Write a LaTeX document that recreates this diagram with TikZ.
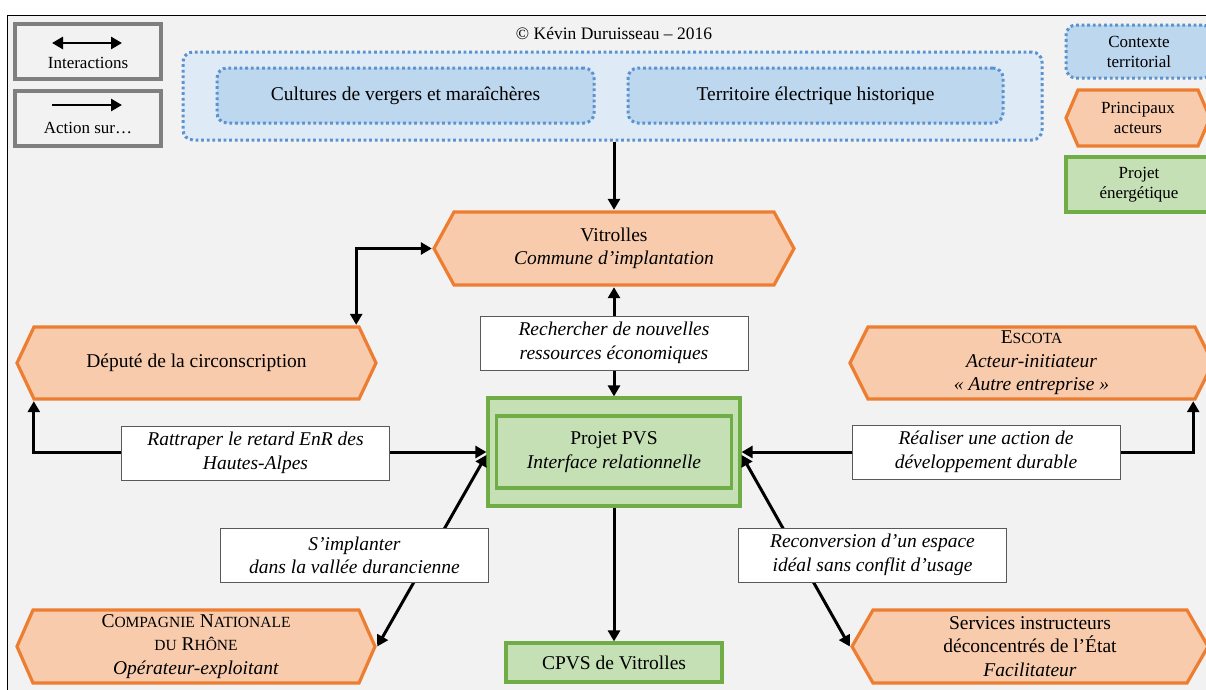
\documentclass[tikz,border=0pt]{standalone}
\usepackage{fontspec}
\setmainfont{Liberation Serif}
\usetikzlibrary{arrows.meta,calc}
\definecolor{bgc}{HTML}{F2F2F2}
\definecolor{orfill}{HTML}{F8CBAD}
\definecolor{orline}{HTML}{ED7D31}
\definecolor{grfill}{HTML}{C5E0B4}
\definecolor{grline}{HTML}{70AD47}
\definecolor{blight}{HTML}{DEEBF7}
\definecolor{bmid}{HTML}{BDD7EE}
\definecolor{bdot}{HTML}{5A93CF}
\definecolor{leggray}{HTML}{7F7F7F}
\definecolor{lblline}{HTML}{595959}
\newcommand\mainsz{\fontsize{19.5}{23.5}\selectfont}
\newcommand\legsz{\fontsize{17}{20}\selectfont}
\newcommand\fsc[1]{{\fontsize{15.5}{18}\selectfont #1}}
\tikzset{
  hexa/.style={inner sep=0pt, align=center, path picture={
    \path[draw=orline, fill=orfill, line width=3.2pt, line join=miter]
      ([xshift=2pt]path picture bounding box.west)
      -- ([xshift=#1pt,yshift=-2pt]path picture bounding box.north west)
      -- ([xshift=-#1pt,yshift=-2pt]path picture bounding box.north east)
      -- ([xshift=-2pt]path picture bounding box.east)
      -- ([xshift=-#1pt,yshift=2pt]path picture bounding box.south east)
      -- ([xshift=#1pt,yshift=2pt]path picture bounding box.south west) -- cycle;}},
  legbox/.style={draw=leggray, line width=3.5pt, fill=bgc, minimum width=146, minimum height=55},
  dotline/.style={draw=bdot, line width=3pt, dash pattern=on 2.8pt off 2.8pt},
  ctxbox/.style={dotline, rounded corners=10pt},
  grbox/.style={draw=grline, fill=grfill, line width=3.2pt, align=center},
  lbl/.style={draw=lblline, line width=0.9pt, fill=white, align=center, font=\mainsz\itshape, minimum width=268, minimum height=54},
  arr/.style={line width=3pt, -{Triangle[length=11pt,width=12pt]}},
  biarr/.style={line width=3pt, {Triangle[length=11pt,width=12pt]}-{Triangle[length=11pt,width=12pt]}},
}
\begin{document}
\begin{tikzpicture}[x=1pt,y=-1pt, every node/.style={inner sep=0pt, font=\mainsz}]
\useasboundingbox (0,0) rectangle (1206,689);
% frame
\draw[fill=bgc, line width=1pt] (7,15) rectangle (1215,700);

% legend left
\node[legbox] (leg1) at (88,51.5) {};
\node[font=\legsz, anchor=base] (leg1t) at (88,68.5) {Interactions};
\draw[biarr, line width=2.8pt] ([xshift=-36pt,yshift=8.5pt]leg1.center) -- ([xshift=34pt,yshift=8.5pt]leg1.center);
\node[legbox] (leg2) at (88,118.5) {};
\node[font=\legsz, anchor=base] (leg2t) at (88,133) {Action sur…};
\draw[arr, line width=2.8pt] ([xshift=-36pt,yshift=13.5pt]leg2.center) -- ([xshift=34pt,yshift=13.5pt]leg2.center);

% copyright
\node[font=\fontsize{17.5}{20}\selectfont] (copy) at (614,33) {© Kévin Duruisseau – 2016};

% legend right
\node[ctxbox, fill=bmid, minimum width=146, minimum height=53, align=center, font=\legsz] (legc) at (1139,51.5) {Contexte\\territorial};
\node[hexa=14, minimum width=148, minimum height=60, font=\legsz] (lega) at (1138,118) {Principaux\\acteurs};
\node[grbox, minimum width=146, minimum height=55, font=\legsz] (legp) at (1139,184.5) {Projet\\énergétique};

% territorial context
\node[ctxbox, fill=blight, minimum width=859, minimum height=88] (ctx) at (612.5,96) {};
\node[ctxbox, fill=bmid, minimum width=377, minimum height=55] (cult) at (405.5,95.5) {Cultures de vergers et maraîchères};
\node[ctxbox, fill=bmid, minimum width=375, minimum height=55] (terr) at (815.5,95.5) {Territoire électrique historique};

% actors
\node[hexa=22, minimum width=364, minimum height=77] (vit) at (614,248.5) {Vitrolles\\\textit{Commune d’implantation}};
\node[hexa=19, minimum width=363, minimum height=76] (dep) at (196.5,363) {Député de la circonscription};
\node[hexa=20, minimum width=367, minimum height=76] (esc) at (1031.5,363) {E\fsc{SCOTA}\\\textit{Acteur-initiateur}\\\textit{« Autre entreprise »}};
\node[hexa=18, minimum width=362, minimum height=77] (cnr) at (196,646.5) {C\fsc{OMPAGNIE} N\fsc{ATIONALE}\\\fsc{DU} R\fsc{HÔNE}\\\textit{Opérateur-exploitant}};
\node[hexa=23, minimum width=360, minimum height=77] (srv) at (1030,646.5) {Services instructeurs\\déconcentrés de l’État\\\textit{Facilitateur}};

% project
\node[grbox, minimum width=252, minimum height=108] (pvs) at (614,452) {};
\node[grbox, minimum width=235, minimum height=72] (pvsin) at (614,452) {Projet PVS\\\textit{Interface relationnelle}};
\node[grbox, minimum width=216, minimum height=39] (cpvs) at (614,662.5) {CPVS de Vitrolles};

% connectors
\draw[arr] (ctx.south -| vit.north) -- (vit.north);
\draw[biarr] (vit.south) -- (pvs.north);
\draw[biarr] ([xshift=-22pt]dep.north east) |- (vit.west);
\draw[biarr] ([xshift=19pt]dep.south west) |- (pvs.west);
\draw[biarr] ([xshift=-22pt]esc.south east) |- (pvs.east);
\draw[biarr] (cnr.east) -- ([yshift=-3pt]pvs.west);
\draw[biarr] (srv.west) -- ([yshift=-3pt]pvs.east);
\draw[arr] (pvs.south) -- (cpvs.north);

% labels
\node[lbl] (lrech) at (614,343) {Rechercher de nouvelles\\ressources économiques};
\node[lbl] (lratt) at (255.5,453) {Rattraper le retard EnR des\\Hautes-Alpes};
\node[lbl] (lreal) at (986,452) {Réaliser une action de\\développement durable};
\node[lbl] (limpl) at (354.5,555.5) {S’implanter\\dans la vallée durancienne};
\node[lbl] (lreco) at (872.5,555) {Reconversion d’un espace\\idéal sans conflit d’usage};
\end{tikzpicture}
\end{document}
